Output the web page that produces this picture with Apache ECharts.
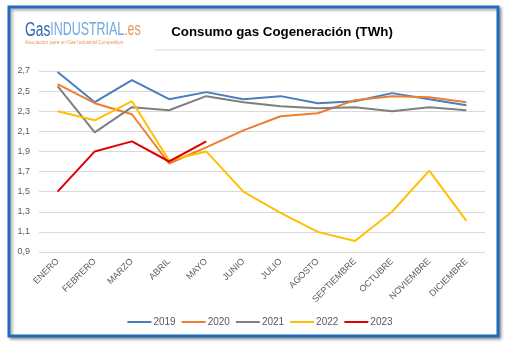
<!DOCTYPE html>
<html><head><meta charset="utf-8">
<script src="https://cdn.jsdelivr.net/npm/echarts@6/dist/echarts.min.js"></script>
<style>html,body{margin:0;padding:0;background:#fff}#c{width:520px;height:358px}</style>
</head><body><div id="c"></div>
<script>
var categories = ['ENERO','FEBRERO','MARZO','ABRIL','MAYO','JUNIO','JULIO','AGOSTO','SEPTIEMBRE','OCTUBRE','NOVIEMBRE','DICIEMBRE'];
var s2019 = [2.69,2.39,2.61,2.42,2.49,2.42,2.45,2.38,2.40,2.48,2.42,2.36];
var s2020 = [2.57,2.38,2.27,1.78,1.94,2.11,2.25,2.28,2.41,2.45,2.44,2.39];
var s2021 = [2.55,2.09,2.34,2.31,2.45,2.39,2.35,2.33,2.34,2.30,2.34,2.31];
var s2022 = [2.30,2.21,2.40,1.81,1.90,1.50,1.29,1.10,1.01,1.30,1.71,1.21];
var s2023 = [1.50,1.90,2.00,1.80,2.00];
var seriesNames = ['2019','2020','2021','2022','2023'];
var colors = ['#4A7EBB','#ED7D31','#7F7F7F','#FFC000','#E00000'];

var chart = echarts.init(document.getElementById('c'));
var data = [s2019,s2020,s2021,s2022,s2023];
chart.setOption({
  animation:false,
  backgroundColor:'#fff',
  graphic:[
    {type:'rect',shape:{x:9,y:7,width:489,height:329},style:{fill:'#fff',stroke:'#1F6BBF',lineWidth:3,shadowBlur:3,shadowOffsetX:2,shadowOffsetY:2,shadowColor:'rgba(0,0,0,0.35)'},z:-10},
    {type:'line',shape:{x1:155,y1:50,x2:485,y2:50},style:{stroke:'#D9D9D9',lineWidth:1}},
    {type:'text',x:282,y:32,style:{text:'Consumo gas Cogeneración (TWh)',font:'bold 13.3px "Liberation Sans", Arial, sans-serif',fill:'#000',align:'center',verticalAlign:'middle'}},
    {type:'group',x:25,y:20,scaleX:0.69,children:[
      {type:'text',x:0,y:0,style:{rich:{g:{fontSize:20,fontFamily:'"Liberation Sans", Arial',fill:'#2F68AE'},i:{fontSize:18,fontFamily:'"Liberation Sans", Arial',fill:'#6FA8DC'},e:{fontSize:18,fontFamily:'"Liberation Sans", Arial',fill:'#E8975A'}},text:'{g|Gas}{i|INDUSTRIAL}{e|.es}'}}
    ]},
    {type:'text',x:25,y:39,scaleX:0.8,style:{text:'Asociación para un Gas Industrial Competitivo',font:'6px "Liberation Sans", Arial',fill:'#E8975A'}}
  ],
  grid:{left:39,right:35,top:71,bottom:106},
  legend:{bottom:26,left:'center',icon:'rect',itemWidth:24,itemHeight:2,itemGap:6,textStyle:{fontSize:10,color:'#595959',fontFamily:'"Liberation Sans", Arial',padding:[0,0,0,-3]},data:seriesNames},
  xAxis:{type:'category',data:categories,boundaryGap:true,axisLine:{show:false},axisTick:{show:false},
    axisLabel:{rotate:45,fontSize:9,color:'#595959',interval:0,margin:8,fontFamily:'"Liberation Sans", Arial'}},
  yAxis:{type:'value',min:0.9,max:2.7,interval:0.2,axisLine:{show:false},axisTick:{show:false},
    splitLine:{lineStyle:{color:'#D9D9D9',width:1}},
    axisLabel:{fontSize:9,color:'#595959',margin:9,fontFamily:'"Liberation Sans", Arial',formatter:function(v){return v.toFixed(1).replace('.',',');}}},
  series:data.map(function(d,i){return {name:seriesNames[i],type:'line',data:d,showSymbol:false,symbol:'none',lineStyle:{width:2,color:colors[i]},itemStyle:{color:colors[i]}};})
});
</script></body></html>
